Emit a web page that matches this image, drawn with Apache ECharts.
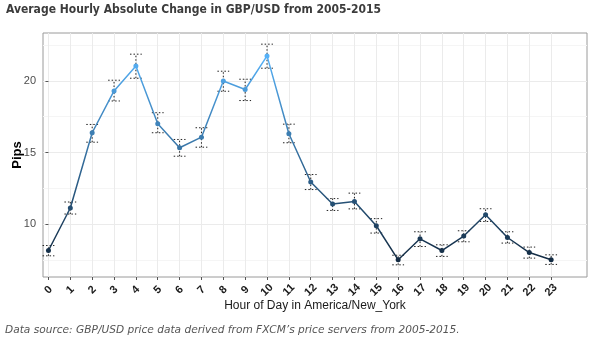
<!DOCTYPE html>
<html>
<head>
<meta charset="utf-8">
<script src="https://cdn.jsdelivr.net/npm/echarts@6/dist/echarts.min.js"></script>
<style>
html,body{margin:0;padding:0;background:#fff;}
#chart{width:602px;height:341px;}
</style>
</head>
<body>
<div id="chart"></div>
<script>
// ---- data ----
const hours = [0,1,2,3,4,5,6,7,8,9,10,11,12,13,14,15,16,17,18,19,20,21,22,23];
const pips  = [8.15,11.12,16.38,19.30,21.05,17.01,15.33,16.07,20.00,19.40,21.75,16.31,12.94,11.40,11.58,9.88,7.50,8.97,8.15,9.16,10.65,9.06,8.01,7.50];
const upper = [8.50,11.54,16.96,20.05,21.87,17.78,15.91,16.73,20.68,20.12,22.57,16.98,13.46,11.78,12.16,10.38,7.82,9.46,8.55,9.53,11.07,9.46,8.39,7.85];
const lower = [7.78,10.70,15.72,18.60,20.19,16.38,14.74,15.37,19.28,18.63,20.89,15.68,12.41,10.95,11.06,9.37,7.15,8.43,7.74,8.76,10.18,8.67,7.62,7.18];
const yTicks = [10,15,20];
const titleText = 'Average Hourly Absolute Change in GBP/USD from 2005-2015';
const xName = 'Hour of Day in America/New_York';
const yName = 'Pips';
const caption = 'Data source: GBP/USD price data derived from FXCM\u2019s price servers from 2005-2015.';

const chart = echarts.init(document.getElementById('chart'), null, {renderer:'canvas'});
const lineData = hours.map((h,i)=>[h, pips[i]]);
const barData = hours.map((h,i)=>[h, lower[i], upper[i]]);
const capHalf = 0.27;

const option = {
  backgroundColor:'#ffffff',
  animation:false,
  title:[
    {text:titleText, left:6, top:4, padding:0,
     textStyle:{fontFamily:'DejaVu Sans Condensed', fontWeight:'bold', fontSize:12, color:'#3c3c3c'}},
    {text:caption, left:5, top:325, padding:0,
     textStyle:{fontFamily:'DejaVu Sans', fontStyle:'italic', fontWeight:'normal', fontSize:10.6, color:'#555555'}}
  ],
  grid:{left:43, right:15, top:33, bottom:64, show:true, borderColor:'#9a9a9a', borderWidth:1, backgroundColor:'#ffffff'},
  visualMap:{show:false, type:'continuous', seriesIndex:1, dimension:1,
    min:Math.min(...pips), max:Math.max(...pips),
    inRange:{color:['#132B43','#56B1F7']}},
  xAxis:{
    type:'value', min:-0.25, max:24.64, minInterval:1, maxInterval:1,
    name:xName, nameLocation:'middle', nameGap:23, nameMoveOverlap:false,
    nameTextStyle:{fontFamily:'Liberation Sans', fontSize:12, color:'#1a1a1a'},
    axisLine:{show:false},
    axisTick:{show:true, inside:false, length:3, customValues:hours, lineStyle:{color:'#555'}},
    axisLabel:{customValues:hours, rotate:45, align:'center', verticalAlign:'middle', margin:13,
      fontFamily:'Liberation Sans', fontWeight:'bold', fontSize:11, color:'#1a1a1a'},
    splitLine:{show:true, lineStyle:{color:'#ebebeb', width:1}}
  },
  yAxis:{
    type:'value', min:6.3, max:23.35, minInterval:5, maxInterval:5,
    name:yName, nameLocation:'middle', nameGap:19, nameRotate:90, nameMoveOverlap:false,
    nameTextStyle:{fontFamily:'Liberation Sans', fontWeight:'bold', fontSize:13, color:'#000'},
    axisLine:{show:false},
    axisTick:{show:true, length:3, customValues:yTicks, lineStyle:{color:'#555'}},
    axisLabel:{customValues:yTicks, margin:7, fontFamily:'Liberation Sans', fontSize:11, color:'#4d4d4d'},
    splitLine:{show:true, lineStyle:{color:'#ebebeb', width:1}},
    minorTick:{show:false, splitNumber:2},
    minorSplitLine:{show:true, lineStyle:{color:'#f5f5f5', width:1}}
  },
  series:[
    {
      type:'custom', data:barData, z:1,
      renderItem:function(params, api){
        const x = api.value(0), lo = api.value(1), hi = api.value(2);
        const pLo = api.coord([x, lo]), pHi = api.coord([x, hi]);
        const pL = api.coord([x - capHalf, lo]), pR = api.coord([x + capHalf, lo]);
        const st = {stroke:'#222', lineWidth:1, lineDash:[1.5,2]};
        return {type:'group', children:[
          {type:'line', shape:{x1:pLo[0], y1:pLo[1], x2:pHi[0], y2:pHi[1]}, style:st},
          {type:'line', shape:{x1:pL[0], y1:pLo[1], x2:pR[0], y2:pLo[1]}, style:st},
          {type:'line', shape:{x1:pL[0], y1:pHi[1], x2:pR[0], y2:pHi[1]}, style:st}
        ]};
      }
    },
    {
      type:'line', data:lineData, z:3,
      symbol:'circle', symbolSize:5, showSymbol:true,
      lineStyle:{width:1.5},
      itemStyle:{borderWidth:0}
    }
  ]
};
chart.setOption(option);
</script>
</body>
</html>
